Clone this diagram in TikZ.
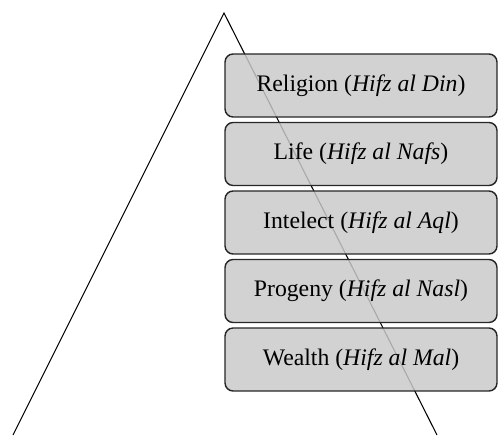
\documentclass[tikz,border=0pt]{standalone}
\usepackage{fontspec}
\setmainfont{Liberation Serif}
\begin{document}
\begin{tikzpicture}[x=0.02cm, y=-0.02cm, goalbox/.style={rectangle, rounded corners=0.16cm, draw=black!85, line width=0.8pt, fill=black!21, fill opacity=0.84, text opacity=1, minimum width=5.44cm, minimum height=1.26cm, font=\fontsize{13.5}{16}\selectfont}]
    \useasboundingbox (0,0) rectangle (499,435);

        % Pyramid.
        \coordinate (apex) at (224,13);
        \coordinate (base-l) at (13,435);
        \coordinate (base-r) at (437,435);
        \draw[line width=0.6pt] (base-l) -- (apex) -- (base-r);

        % Goals.
        \foreach \i/\name in {1/{Religion (\textit{Hifz al Din})}, 2/{Life (\textit{Hifz al Nafs})}, 3/{Intelect (\textit{Hifz al Aql})}, 4/{Progeny (\textit{Hifz al Nasl})}, 5/{Wealth (\textit{Hifz al Mal})}}
            \node[goalbox] (G-\i) at (361,{85.5+68.5*(\i-1)}) {\name};

    \end{tikzpicture}
\end{document}
